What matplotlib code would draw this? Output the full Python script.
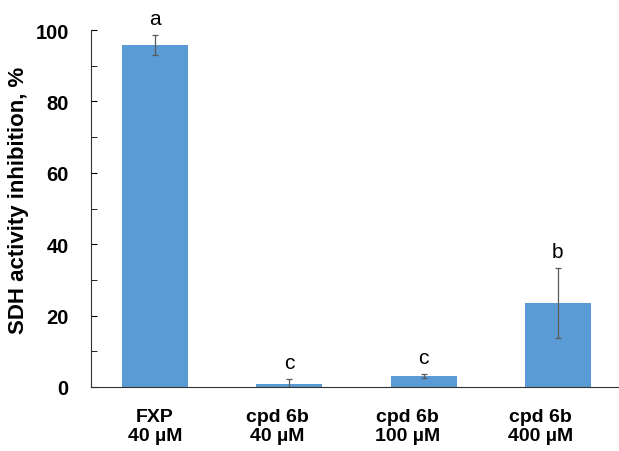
import matplotlib.pyplot as plt
import numpy as np

plt.rcParams['font.family'] = ['Liberation Sans', 'DejaVu Sans']

# DADOS
grupos = ['FXP\n40 µM', 'cpd 6b\n40 µM', 'cpd 6b\n100 µM', 'cpd 6b\n400 µM']
valores = [95.8, 0.8, 3.1, 23.5]
erros = [2.8, 1.5, 0.6, 9.9]
letras = ['a', 'c', 'c', 'b']

# deslocamento dos rotulos do eixo x (como na figura original)
desloc = [0.0, -0.09, -0.12, -0.13]

fig = plt.figure(figsize=(6.19, 4.52), dpi=100)
ax = fig.add_axes([0.147, 0.1416, 0.853, 0.7898])

x = np.arange(len(grupos))
ax.bar(x, valores, width=0.49, color='#5B9BD5', zorder=2)
ax.errorbar(x, valores, yerr=erros, fmt='none', ecolor='#5a5a5a',
            elinewidth=0.9, capsize=2.5, capthick=0.9, zorder=3)

for xi, v, e, l in zip(x, valores, erros, letras):
    ax.annotate(l, (xi, v + e), xytext=(0, 5), textcoords='offset points',
                ha='center', va='bottom', fontsize=15)

ax.set_xlim(-0.477, 3.455)
ax.set_ylim(0, 100)
ax.set_yticks(np.arange(0, 101, 20))
ax.set_yticks(np.arange(0, 101, 10), minor=True)
ax.set_xticks(x + np.array(desloc))
ax.set_xticklabels(grupos, fontsize=14, fontweight='bold', linespacing=1.15)
ax.tick_params(axis='y', which='both', direction='in', length=4,
               labelsize=14.5, pad=16)
ax.tick_params(axis='x', length=0, pad=15)
for t in ax.get_yticklabels():
    t.set_fontweight('bold')

ax.spines['top'].set_visible(False)
ax.spines['right'].set_visible(False)
ax.spines['left'].set_color('#333333')
ax.spines['bottom'].set_color('#333333')

ax.set_ylabel('SDH activity inhibition, %', fontsize=16, fontweight='bold')
ax.yaxis.set_label_coords(-0.118, 0.525)

fig.savefig('out.png', dpi=100)
